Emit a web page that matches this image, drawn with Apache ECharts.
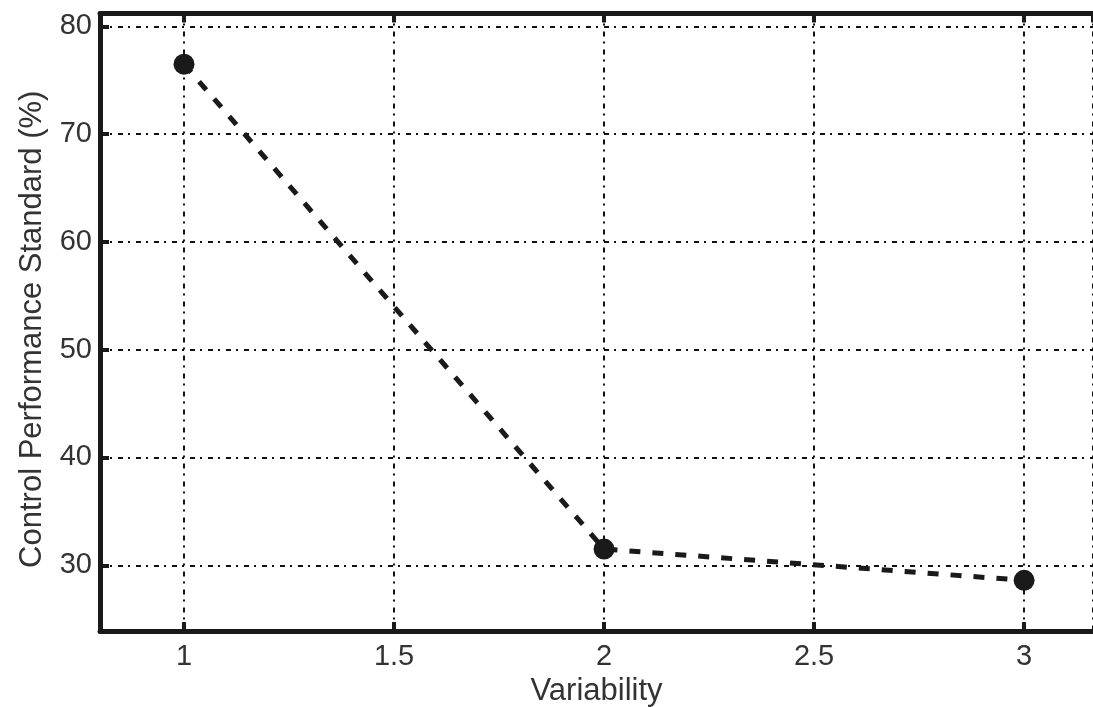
<!DOCTYPE html>
<html>
<head>
<meta charset="utf-8">
<title>Control Performance Standard vs Variability</title>
<script src="https://cdn.jsdelivr.net/npm/echarts@6/dist/echarts.min.js"></script>
<style>
  html, body { margin: 0; padding: 0; background: #fff; }
  #chart { width: 1093px; height: 707px; }
</style>
</head>
<body>
<div id="chart"></div>
<script>
// data
const variability = [1, 2, 3]
const cpsPercent = [76.5, 31.5, 28.6]

// axis ranges (MATLAB-style box, right edge runs past the window)
const xRange = [0.8, 3.164]
const yRange = [23.9, 81.2]

const ink = '#1a1a1a'
const textColor = '#333'
const font = '"Liberation Sans", Arial, sans-serif'

const gridLine = {
  show: true,
  lineStyle: { color: '#111', width: 2, type: [5, 5, 2, 6] }
}

const frameLine = { show: true, lineStyle: { color: ink, width: 5 } }
const innerTick = { show: true, inside: true, length: 9, lineStyle: { color: ink, width: 4 } }

const chart = echarts.init(document.getElementById('chart'))

chart.setOption({
  backgroundColor: '#fff',
  animation: false,
  grid: { left: 100, top: 13.5, right: 0, bottom: 76, containLabel: false, outerBoundsMode: 'none' },
  xAxis: [
    {
      type: 'value',
      position: 'bottom',
      min: xRange[0],
      max: xRange[1],
      name: 'Variability',
      nameLocation: 'middle',
      nameGap: 44,
      nameTextStyle: { fontFamily: font, fontSize: 31, color: textColor },
      axisLine: frameLine,
      axisTick: innerTick,
      splitLine: gridLine,
      axisLabel: {
        fontFamily: font, fontSize: 29, color: textColor, margin: 11,
        showMinLabel: false, showMaxLabel: false
      }
    },
    {
      type: 'value',
      position: 'top',
      min: xRange[0],
      max: xRange[1],
      axisLine: frameLine,
      axisTick: innerTick,
      splitLine: { show: false },
      axisLabel: { show: false }
    }
  ],
  yAxis: {
    type: 'value',
    min: yRange[0],
    max: yRange[1],
    name: 'Control Performance Standard (%)',
    nameLocation: 'middle',
    nameGap: 52,
    nameTextStyle: { fontFamily: font, fontSize: 31, color: textColor, padding: [0, 14, 0, 0] },
    axisLine: frameLine,
    axisTick: innerTick,
    splitLine: gridLine,
    axisLabel: {
      fontFamily: font, fontSize: 29, color: textColor, margin: 8,
      showMinLabel: false, showMaxLabel: false
    }
  },
  series: [
    {
      type: 'line',
      xAxisIndex: 0,
      data: variability.map((v, i) => [v, cpsPercent[i]]),
      symbol: 'circle',
      symbolSize: 21,
      itemStyle: { color: ink },
      lineStyle: { color: ink, width: 5, type: [11, 12] },
      z: 5
    }
  ]
})
</script>
</body>
</html>
